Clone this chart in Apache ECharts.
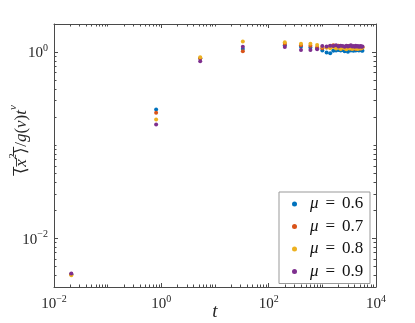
<!DOCTYPE html>
<html>
<head>
<meta charset="utf-8">
<script src="https://cdn.jsdelivr.net/npm/echarts@6/dist/echarts.min.js"></script>
<style>
  html, body { margin: 0; padding: 0; background: #fff; }
  #main { width: 415px; height: 323px; }
</style>
</head>
<body>
<div id="main"></div>
<script>
// time values (log spaced at first, then every 200)
var tValues = [0.021, 0.8, 5.3, 33, 200, 400, 600, 800, 1000, 1200, 1400, 1600, 1800, 2000, 2200, 2400,
  2600, 2800, 3000, 3200, 3400, 3600, 3800, 4000, 4200, 4400, 4600, 4800, 5000, 5200, 5400, 5600];
var mu06 = [0.0041, 0.241, 0.856, 1.08, 1.18, 1.14, 1.12, 1.10, 1.04, 0.99, 0.97, 1.03, 1.04, 1.05, 1.04, 1.05,
  1.02, 1.04, 1.01, 1.05, 1.04, 1.06, 1.03, 1.05, 1.04, 1.06, 1.05, 1.04, 1.05, 1.06, 1.04, 1.03];
var mu07 = [0.0041, 0.223, 0.86, 1.02, 1.22, 1.18, 1.17, 1.12, 1.10, 1.12, 1.16, 1.18, 1.15, 1.17, 1.12, 1.14,
  1.10, 1.13, 1.16, 1.12, 1.09, 1.14, 1.11, 1.13, 1.08, 1.12, 1.10, 1.14, 1.09, 1.11, 1.10, 1.12];
var mu08 = [0.0040, 0.189, 0.877, 1.30, 1.27, 1.23, 1.23, 1.19, 1.14, 1.12, 1.10, 1.13, 1.09, 1.11, 1.08, 1.12,
  1.10, 1.07, 1.11, 1.09, 1.12, 1.08, 1.10, 1.13, 1.09, 1.11, 1.08, 1.10, 1.12, 1.09, 1.11, 1.12];
var mu09 = [0.0042, 0.167, 0.795, 1.14, 1.13, 1.05, 1.05, 1.07, 1.16, 1.15, 1.17, 1.16, 1.18, 1.15, 1.17, 1.16,
  1.14, 1.17, 1.15, 1.16, 1.18, 1.15, 1.16, 1.14, 1.17, 1.15, 1.16, 1.14, 1.15, 1.16, 1.14, 1.15];
var seriesNames = ['μ = 0.6', 'μ = 0.7', 'μ = 0.8', 'μ = 0.9'];
var seriesColors = ['#0072BD', '#D95319', '#EDB120', '#7E2F8E'];
var xLabelTicks = [0.01, 1, 100, 10000];
var yLabelTicks = [0.01, 1];

var xMin = 0.01, xMax = 10000, yMin = 0.003, yMax = 2;

// minor ticks at 2..9 (and the unlabeled decades) inside the range
function minorTicks(lo, hi, labeled) {
  var out = [];
  for (var e = -4; e <= 5; e++) {
    for (var k = 1; k <= 9; k++) {
      var v = +(k * Math.pow(10, e)).toPrecision(6);
      if (v >= lo * 0.999 && v <= hi * 1.001 && labeled.indexOf(v) < 0) out.push(v);
    }
  }
  return out;
}
var xMinor = minorTicks(xMin, xMax, xLabelTicks);
var yMinor = minorTicks(yMin, yMax, yLabelTicks);

var axisColor = '#4a4a4a';
var serif = 'Liberation Serif';

function powLabel(v) {
  var e = Math.round(Math.log10(v));
  return '{b|10}{s|' + (e < 0 ? '−' + (-e) : e) + '}';
}
var powRich = {
  b: { fontFamily: serif, fontSize: 15, color: '#262626', verticalAlign: 'bottom', lineHeight: 18 },
  s: { fontFamily: serif, fontSize: 10, color: '#262626', verticalAlign: 'top', lineHeight: 18 }
};

function logAxis(pos, min, max, ticks, len, showLine, showLabel, isX) {
  return {
    type: 'log',
    logBase: 10,
    position: pos,
    min: min,
    max: max,
    axisLine: { show: showLine, lineStyle: { color: axisColor, width: 1 } },
    axisTick: { show: true, inside: true, length: len, customValues: ticks, lineStyle: { color: axisColor, width: 1 } },
    axisLabel: showLabel ? {
      show: true, customValues: ticks, margin: isX ? 7 : 6,
      formatter: powLabel, rich: powRich
    } : { show: false },
    splitLine: { show: false },
    minorTick: { show: false }
  };
}

var xAxes = [
  logAxis('bottom', xMin, xMax, xLabelTicks, 4, true, true, true),
  logAxis('bottom', xMin, xMax, xMinor, 2.5, false, false, true),
  logAxis('top', xMin, xMax, xLabelTicks, 4, true, false, true),
  logAxis('top', xMin, xMax, xMinor, 2.5, false, false, true)
];
xAxes[0].name = 't';
xAxes[0].nameLocation = 'middle';
xAxes[0].nameGap = 15;
xAxes[0].nameMoveOverlap = false;
xAxes[0].nameTextStyle = { fontFamily: serif, fontStyle: 'italic', fontSize: 19, color: '#262626' };

var yAxes = [
  logAxis('left', yMin, yMax, yLabelTicks, 4, true, true, false),
  logAxis('left', yMin, yMax, yMinor, 2.5, false, false, false),
  logAxis('right', yMin, yMax, yLabelTicks, 4, true, false, false),
  logAxis('right', yMin, yMax, yMinor, 2.5, false, false, false)
];
var ol = '\u0305';
yAxes[0].name = '{u|⟨' + ol + '}{i|x' + ol + '}{s|2}{u|⟩' + ol + '/}{i|g}{u|(}{i|ν}{u|)}{i|t}{s|ν}';
yAxes[0].nameLocation = 'middle';
yAxes[0].nameRotate = 90;
yAxes[0].nameGap = 24;
yAxes[0].nameMoveOverlap = false;
yAxes[0].nameTextStyle = {
  padding: [0, 0, 0, 32],
  rich: {
    u: { fontFamily: serif, fontSize: 17, color: '#262626', verticalAlign: 'bottom', lineHeight: 22 },
    i: { fontFamily: serif, fontSize: 17, fontStyle: 'italic', color: '#262626', verticalAlign: 'bottom', lineHeight: 22 },
    s: { fontFamily: serif, fontSize: 11, fontStyle: 'italic', color: '#262626', verticalAlign: 'top', lineHeight: 22 }
  }
};

var allSeries = [mu06, mu07, mu08, mu09];
var series = allSeries.map(function (vals, i) {
  return {
    name: seriesNames[i],
    type: 'scatter',
    xAxisIndex: 0,
    yAxisIndex: 0,
    symbol: 'circle',
    symbolSize: 4,
    itemStyle: { color: seriesColors[i], opacity: 1 },
    data: tValues.map(function (t, j) { return [t, vals[j]]; })
  };
});

var chart = echarts.init(document.getElementById('main'), null, { renderer: 'canvas' });
chart.setOption({
  animation: false,
  backgroundColor: '#fff',
  grid: { left: 54, right: 39, top: 24, bottom: 36, outerBoundsMode: 'none' },
  xAxis: xAxes,
  yAxis: yAxes,
  legend: {
    orient: 'vertical',
    left: 279,
    top: 192,
    padding: [3, 2, 3, 13],
    itemGap: 4.5,
    itemWidth: 5,
    itemHeight: 5,
    icon: 'circle',
    borderColor: '#999',
    borderWidth: 1,
    backgroundColor: '#fff',
    data: seriesNames,
    formatter: function (name) { return '{i|μ}{e|=}{t|' + name.split('= ')[1] + '}'; },
    textStyle: {
      width: 58,
      lineHeight: 18,
      padding: [0, 0, 0, 8],
      rich: {
        i: { fontFamily: serif, fontSize: 17, fontStyle: 'italic', color: '#111' },
        e: { fontFamily: serif, fontSize: 17, color: '#111', padding: [0, 7, 0, 7] },
        t: { fontFamily: serif, fontSize: 17, color: '#111' }
      }
    }
  },
  series: series
});
</script>
</body>
</html>
